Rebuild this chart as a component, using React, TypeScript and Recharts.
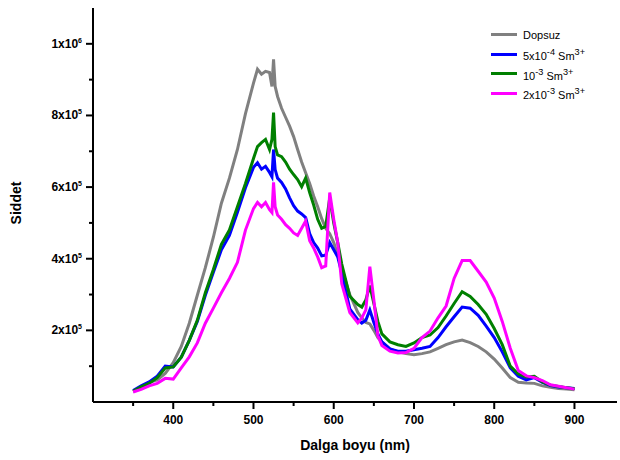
import React from "react"
import { LineChart, Line, XAxis, YAxis, Legend } from "recharts"

// wavelength (nm)
const wavelengths = [
  350, 360, 370, 380, 390, 400, 410, 420, 430, 440, 450, 460, 470, 480, 490, 500,
  505, 510, 515, 520, 523, 525, 527, 530,
  535, 540, 545, 550, 555, 560, 565, 570, 575, 580, 585, 590, 595, 600, 605, 610,
  620, 630, 635, 640, 645, 650, 655, 660,
  670, 680, 690, 700, 710, 720, 730, 740, 750, 760, 770, 780, 790, 800, 810, 820,
  830, 840, 850, 860, 870, 880, 890, 900,
]

// intensity, in units of 10^3
const dopsuz = [
  30, 40, 55, 62, 80, 110, 155, 220, 298, 375, 460, 555, 625, 705, 805, 890,
  929, 915, 923, 920, 881, 957, 881, 853,
  820, 795, 770, 741, 705, 670, 640, 610, 575, 545, 512, 485, 470, 445, 410, 370,
  300, 250, 235, 222, 218, 200, 180, 168,
  148, 140, 135, 132, 135, 140, 150, 160, 168, 173, 166, 155, 140, 120, 95, 68,
  55, 53, 52, 45, 41, 38, 36, 34,
]
const sm5e4 = [
  32, 45, 56, 72, 100, 98, 125, 172, 225, 298, 362, 425, 465, 530, 598, 655,
  668, 650, 658, 641, 629, 705, 649, 625,
  613, 595, 570, 548, 533, 525, 515, 470, 445, 430, 408, 410, 445, 425, 405, 360,
  260, 230, 220, 228, 257, 222, 190, 168,
  148, 142, 142, 146, 150, 155, 180, 210, 238, 265, 262, 242, 212, 180, 140, 95,
  72, 62, 68, 55, 46, 42, 40, 38,
]
const sm1e3 = [
  30, 42, 52, 68, 95, 98, 125, 172, 228, 305, 370, 440, 480, 545, 610, 680,
  713, 724, 733, 705, 733, 808, 713, 690,
  685, 670, 650, 635, 621, 601, 625, 585, 550, 510, 485, 490, 570, 500, 445, 385,
  295, 272, 265, 285, 325, 275, 225, 190,
  168, 160, 155, 165, 180, 187, 208, 240, 275, 308, 295, 272, 245, 205, 160, 100,
  78, 70, 72, 56, 47, 43, 40, 37,
]
const sm2e3 = [
  28, 35, 45, 52, 66, 64, 95, 126, 165, 220, 262, 305, 345, 390, 480, 540,
  557, 545, 557, 537, 529, 613, 545, 522,
  510, 495, 485, 472, 465, 485, 505, 450, 430, 405, 375, 380, 585, 510, 445, 330,
  250, 221, 235, 257, 378, 285, 185, 158,
  142, 137, 138, 150, 180, 198, 235, 268, 345, 395, 395, 365, 335, 290, 225, 150,
  88, 73, 68, 60, 48, 44, 40, 36,
]

const xTicks = [350, 400, 450, 500, 550, 600, 650, 700, 750, 800, 850, 900]
const yTicks = [100, 200, 300, 400, 500, 600, 700, 800, 900, 1000]

const data = wavelengths.map((w, i) => ({
  w,
  dopsuz: dopsuz[i],
  sm5e4: sm5e4[i],
  sm1e3: sm1e3[i],
  sm2e3: sm2e3[i],
}))

const font = "Arial, 'Liberation Sans', sans-serif"

const XTick = (props: any) => {
  const { x, y, payload } = props
  const major = payload.value % 100 === 0
  return (
    <g>
      <line x1={x} x2={x} y1={y} y2={y + (major ? 7 : 4)} stroke="#000" strokeWidth={2} />
      {major && (
        <text x={x} y={y + 22} textAnchor="middle" fontFamily={font} fontWeight="bold" fontSize={12} fill="#000">
          {payload.value}
        </text>
      )}
    </g>
  )
}

const YTick = (props: any) => {
  const { x, y, payload } = props
  const v = payload.value * 1000
  const major = payload.value % 200 === 0
  const exp = Math.floor(Math.log10(v) + 1e-9)
  const mant = Math.round(v / Math.pow(10, exp))
  return (
    <g>
      <line x1={x} x2={x - (major ? 7 : 4)} y1={y} y2={y} stroke="#000" strokeWidth={2} />
      {major && (
        <text x={x - 11} y={y + 4} textAnchor="end" fontFamily={font} fontWeight="bold" fontSize={12} fill="#000">
          {mant}x10
          <tspan dy={-5} fontSize={7}>{exp}</tspan>
        </text>
      )}
    </g>
  )
}

const legendItems = [
  { color: "#808080", label: <>Dopsuz</> },
  { color: "#0000ff", label: <>5x10<sup>-4</sup> Sm<sup>3+</sup></> },
  { color: "#008000", label: <>10<sup>-3</sup> Sm<sup>3+</sup></> },
  { color: "#ff00ff", label: <>2x10<sup>-3</sup> Sm<sup>3+</sup></> },
]

const LegendBox = () => (
  <div style={{ fontFamily: font, fontSize: 11, color: "#000" }}>
    {legendItems.map((it, i) => (
      <div key={i} style={{ display: "flex", alignItems: "center", height: 19.5 }}>
        <span style={{ display: "inline-block", width: 26, height: 3, background: it.color, marginRight: 6 }} />
        <span style={{ lineHeight: "12px" }}>{it.label}</span>
      </div>
    ))}
  </div>
)

export default function App() {
  return (
    <div style={{ position: "absolute", left: 0, top: 0, width: 620, height: 460, background: "#fff" }}>
      <LineChart width={620} height={460} data={data} margin={{ top: 8, right: 3, left: 0, bottom: 0 }}>
        <XAxis
          dataKey="w"
          type="number"
          domain={[300, 953]}
          ticks={xTicks}
          interval={0}
          height={58}
          tickSize={0}
          tickMargin={0}
          tickLine={false}
          axisLine={{ stroke: "#000", strokeWidth: 2 }}
          tick={<XTick />}
          label={{ value: "Dalga boyu (nm)", position: "insideBottom", offset: 10, fill: "#000", fontFamily: font, fontWeight: "bold", fontSize: 14 }}
        />
        <YAxis
          type="number"
          domain={[0, 1100]}
          ticks={yTicks}
          interval={0}
          width={93}
          tickSize={0}
          tickMargin={0}
          tickLine={false}
          axisLine={{ stroke: "#000", strokeWidth: 2 }}
          tick={<YTick />}
          label={() => (
            <text x={21} y={203} transform="rotate(-90, 21, 203)" textAnchor="middle" fontFamily={font} fontWeight="bold" fontSize={14} fill="#000">
              Siddet
            </text>
          )}
        />
        <Legend
          layout="vertical"
          align="center"
          verticalAlign="middle"
          content={<LegendBox />}
          wrapperStyle={{ position: "absolute", left: 491, top: 25, width: 130 }}
        />
        <Line dataKey="dopsuz" name="Dopsuz" stroke="#808080" strokeWidth={3} dot={false} isAnimationActive={false} />
        <Line dataKey="sm5e4" name="5x10-4 Sm3+" stroke="#0000ff" strokeWidth={3} dot={false} isAnimationActive={false} />
        <Line dataKey="sm1e3" name="10-3 Sm3+" stroke="#008000" strokeWidth={3} dot={false} isAnimationActive={false} />
        <Line dataKey="sm2e3" name="2x10-3 Sm3+" stroke="#ff00ff" strokeWidth={3} dot={false} isAnimationActive={false} />
      </LineChart>
    </div>
  )
}
